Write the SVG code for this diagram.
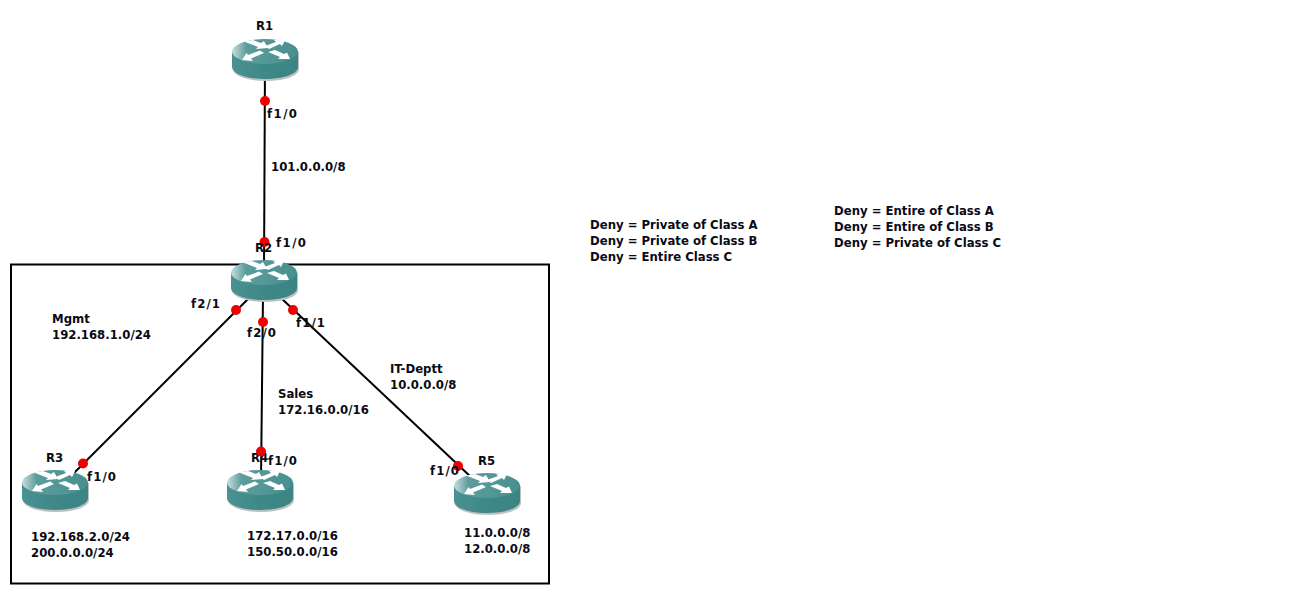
<svg xmlns="http://www.w3.org/2000/svg" width="1290" height="594" viewBox="0 0 1290 594">
<style>
text{font-family:"DejaVu Sans","Liberation Sans",sans-serif;font-weight:700;font-size:11.7px;fill:#0a0a14}
.l{stroke:#000;stroke-width:2;fill:none}
.d{fill:#f00000}
.a{fill:#fff}
</style>
<defs>
<linearGradient id="top" x1="0" x2="1" y1="0" y2="0"><stop offset="0" stop-color="#c8dede"/><stop offset=".22" stop-color="#5c9c9c"/><stop offset="1" stop-color="#478f8f"/></linearGradient>
<linearGradient id="side" x1="0" x2="1" y1="0" y2="0"><stop offset="0" stop-color="#4a9191"/><stop offset=".5" stop-color="#3f8888"/><stop offset="1" stop-color="#3a8484"/></linearGradient>
<g id="router">
<path d="M1 13V30C1 37 16 42 34 42S67 37 67 30V13Z" fill="#c0c0c0"/>
<path d="M0 12V28C0 35 15 40 33 40S66 35 66 28V12Z" fill="url(#side)"/>
<ellipse cx="33" cy="12.500" rx="33" ry="12.500" fill="url(#top)"/>
<path class="a" d="M12 2.500L21 1L29 4L32 2L36 9L24 10L26 8Z"/>
<path class="a" d="M53 1L42 1L44 3L33 7L37 10L48 5L50 7Z"/>
<path class="a" d="M10 21L21 22L19 19.500L32 14L28 11.500L16 16L14.500 14Z"/>
<path class="a" d="M36 13L43 11L52 15L55 13.500L58 20L46 20L48 18Z"/>
</g>
</defs>
<rect x="0" y="0" width="1290" height="594" fill="#fff"/>
<rect x="11" y="264.500" width="538" height="319" fill="none" stroke="#000" stroke-width="2"/>
<g id="connectors">
<line class="l" x1="265" y1="60" x2="264" y2="275"/>
<line class="l" x1="250" y1="297" x2="70" y2="477"/>
<line class="l" x1="263" y1="295" x2="261" y2="480"/>
<line class="l" x1="280" y1="297" x2="472" y2="478"/>
</g>
<g id="R1"><use href="#router" x="232" y="39"/><text x="256" y="30">R1</text></g>
<g id="R2"><use href="#router" x="231" y="260"/></g>
<g id="R3"><use href="#router" x="22" y="470"/><text x="46" y="462">R3</text></g>
<g id="R4"><use href="#router" x="227" y="470"/><text x="251" y="462">R4</text></g>
<g id="R5"><use href="#router" x="454" y="473"/><text x="478" y="465">R5</text></g>
<g id="ports">
<circle class="d" cx="265" cy="101" r="5"/>
<circle class="d" cx="264.500" cy="242" r="5"/>
<circle class="d" cx="236" cy="310" r="5"/>
<circle class="d" cx="263" cy="322" r="5"/>
<circle class="d" cx="293" cy="310" r="5"/>
<circle class="d" cx="83" cy="463.500" r="5"/>
<circle class="d" cx="261" cy="451.500" r="5"/>
<circle class="d" cx="458" cy="466" r="5"/>
</g>
<g id="labels">
<text x="255" y="252">R2</text>
<text x="267" y="118" textLength="30">f1/0</text>
<text x="276" y="247" textLength="30">f1/0</text>
<text x="191" y="308" textLength="29">f2/1</text>
<text x="247" y="337" textLength="29">f2/0</text>
<text x="296" y="327" textLength="29">f1/1</text>
<text x="87" y="481" textLength="29">f1/0</text>
<text x="268" y="465" textLength="29">f1/0</text>
<text x="430" y="475" textLength="29">f1/0</text>
<text x="271" y="171">101.0.0.0/8</text>
<text x="52" y="323">Mgmt</text>
<text x="52" y="339">192.168.1.0/24</text>
<text x="278" y="398">Sales</text>
<text x="278" y="414">172.16.0.0/16</text>
<text x="390" y="373">IT-Deptt</text>
<text x="390" y="389">10.0.0.0/8</text>
<text x="31" y="541">192.168.2.0/24</text>
<text x="31" y="557">200.0.0.0/24</text>
<text x="247" y="540">172.17.0.0/16</text>
<text x="247" y="556">150.50.0.0/16</text>
<text x="464" y="537">11.0.0.0/8</text>
<text x="464" y="553">12.0.0.0/8</text>
<text x="590" y="229">Deny = Private of Class A</text>
<text x="590" y="245">Deny = Private of Class B</text>
<text x="590" y="261">Deny = Entire Class C</text>
<text x="834" y="215">Deny = Entire of Class A</text>
<text x="834" y="231">Deny = Entire of Class B</text>
<text x="834" y="247">Deny = Private of Class C</text>
</g>
</svg>
